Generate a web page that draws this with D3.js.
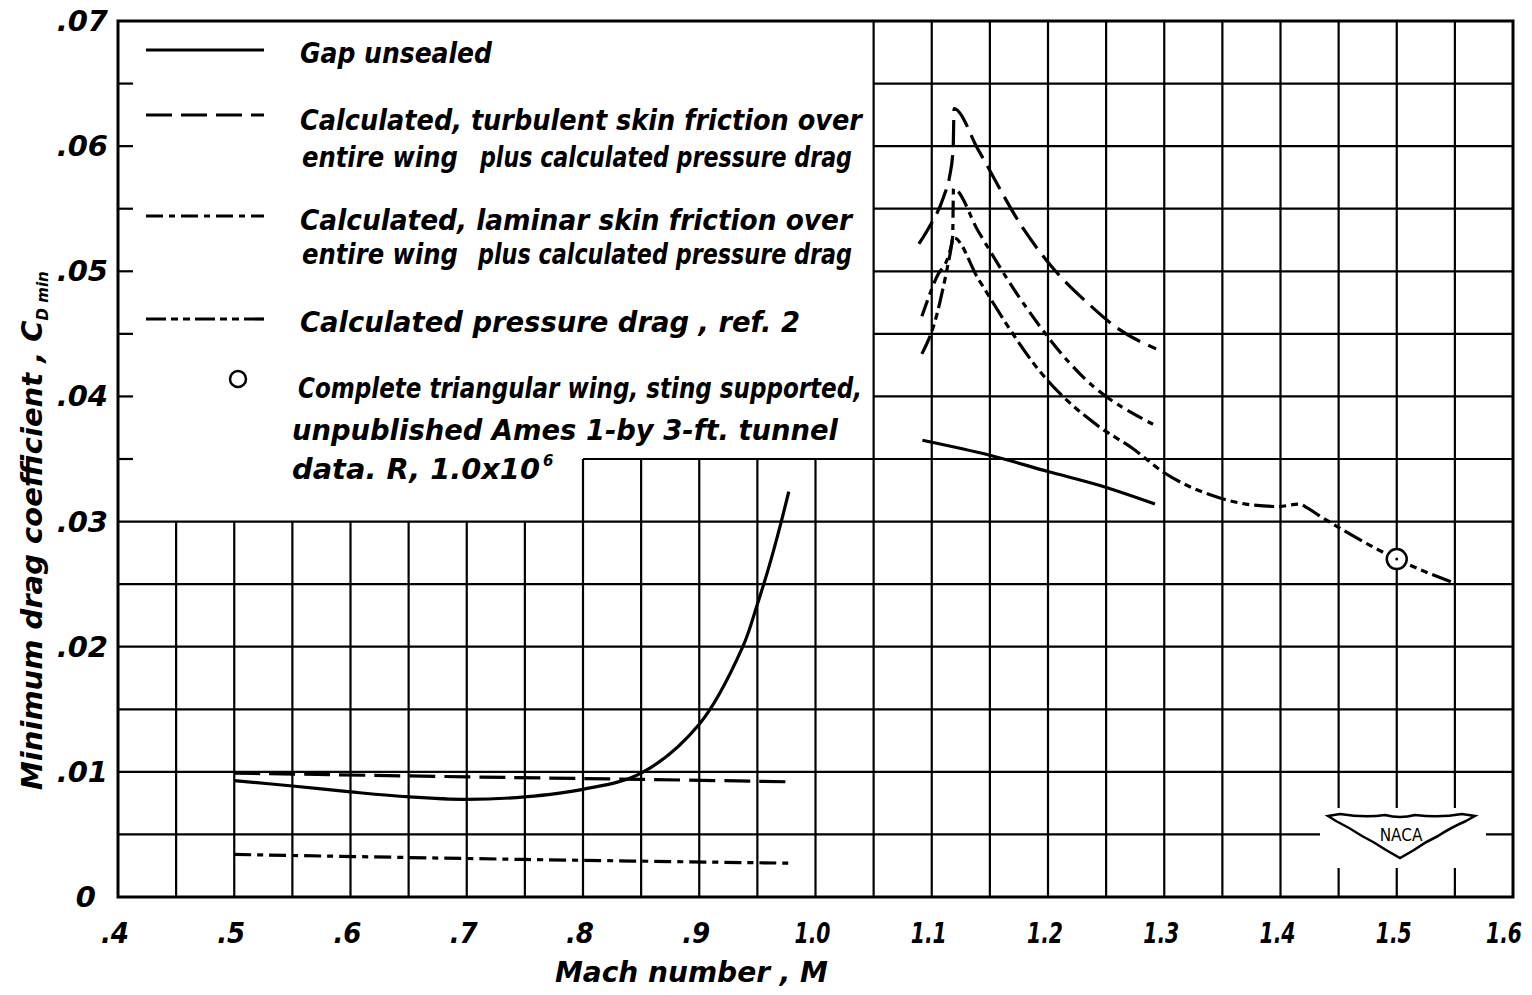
<!DOCTYPE html>
<html>
<head>
<meta charset="utf-8">
<script src="https://cdn.jsdelivr.net/npm/d3@7"></script>
<style>
  html, body { margin: 0; padding: 0; background: #fff; }
  svg { display: block; }
  text { font-family: "DejaVu Sans", "Liberation Sans", sans-serif; font-style: oblique; font-weight: bold; fill: #000; }
</style>
</head>
<body>
<svg id="chart" width="1532" height="995"></svg>
<script>
// ---------------- data ----------------
const xTickValues = [0.4, 0.5, 0.6, 0.7, 0.8, 0.9, 1.0, 1.1, 1.2, 1.3, 1.4, 1.5, 1.6];
const xTickLabels = [".4", ".5", ".6", ".7", ".8", ".9", "1.0", "1.1", "1.2", "1.3", "1.4", "1.5", "1.6"];
const yTickValues = [0, 0.01, 0.02, 0.03, 0.04, 0.05, 0.06, 0.07];
const yTickLabels = ["0", ".01", ".02", ".03", ".04", ".05", ".06", ".07"];

// Gap unsealed (solid)
const gapSubMach = [0.50, 0.55, 0.60, 0.65, 0.70, 0.75, 0.80, 0.85, 0.90, 0.937, 0.95, 0.96, 0.97, 0.977];
const gapSubCd   = [0.0093, 0.00887, 0.0084, 0.0080, 0.0078, 0.0080, 0.0086, 0.0099, 0.0138, 0.0199, 0.0234, 0.0264, 0.0298, 0.0324];
const gapSupMach = [1.092, 1.15, 1.20, 1.244, 1.292];
const gapSupCd   = [0.0365, 0.0353, 0.0340, 0.0329, 0.0314];

// Calculated, turbulent skin friction + pressure drag (long dash)
const turbSubMach = [0.50, 0.70, 0.85, 0.98];
const turbSubCd   = [0.0099, 0.0096, 0.0094, 0.0092];
const turbSupMach = [1.089, 1.097, 1.110, 1.1156, 1.118, 1.1185, 1.1192, 1.14, 1.1795, 1.202, 1.236, 1.259, 1.293];
const turbSupCd   = [0.0522, 0.0534, 0.0559, 0.0577, 0.0593, 0.0600, 0.0630, 0.0597, 0.0533, 0.0505, 0.0473, 0.0455, 0.0438];

// Calculated, laminar skin friction + pressure drag
const lamSubMach = [0.50, 0.75, 0.98];
const lamSubCd   = [0.0034, 0.0030, 0.0027];
const lamSupMach = [1.0915, 1.104, 1.1156, 1.118, 1.1187, 1.14, 1.174, 1.2307, 1.292];
const lamSupCd   = [0.0464, 0.0495, 0.0516, 0.0528, 0.0566, 0.0532, 0.0481, 0.0415, 0.0377];

// Calculated pressure drag, ref. 2
const presMach = [1.0915, 1.1028, 1.111, 1.1156, 1.1187, 1.14, 1.1966, 1.2437, 1.272, 1.30, 1.344, 1.37, 1.398, 1.416, 1.423, 1.433, 1.447, 1.483, 1.50, 1.549];
const presCd   = [0.0434, 0.0460, 0.0492, 0.0513, 0.0527, 0.0494, 0.0416, 0.0376, 0.0359, 0.0339, 0.0320, 0.0314, 0.0312, 0.0314, 0.0311, 0.0305, 0.0297, 0.0278, 0.0270, 0.0251];

// Experimental point: complete triangular wing
const expMach = [1.50];
const expCd   = [0.0270];

// legend text
const legendText = [
  ["Gap unsealed", 300, 63, 192],
  ["Calculated, turbulent skin friction over", 300, 130, 562],
  ["entire wing", 302, 167, 156],
  ["plus calculated pressure drag", 480, 167, 372],
  ["Calculated, laminar skin friction over", 300, 230, 552],
  ["entire wing", 302, 264, 156],
  ["plus calculated pressure drag", 478, 264, 374],
  ["Calculated  pressure  drag , ref.  2", 300, 332, 500],
  ["Complete triangular wing, sting supported,", 298, 398, 564],
  ["unpublished  Ames  1-by 3-ft. tunnel", 292, 440, 546],
  ["data.  R, 1.0x10", 292, 479, 248]
];

// ---------------- scales ----------------
const svg = d3.select("#chart");
const x = d3.scaleLinear().domain([0.4, 1.6]).range([118, 1513]);
const y = d3.scaleLinear().domain([0, 0.07]).range([897, 21]);

const dashTurb = "26,9";
const dashLam = "17,6,6,6";
const dashPres = "20,5,7,5,7,5";

// ---------------- grid ----------------
const gridG = svg.append("g").attr("stroke", "#000").attr("stroke-width", 2.2).attr("fill", "none");
const vGrid = d3.range(9, 32).map(i => +(i * 0.05).toFixed(2)); // 0.45 ... 1.55
vGrid.forEach(v => {
  const top = v >= 1.05 - 1e-9 ? 0.07 : (v >= 0.8 - 1e-9 ? 0.035 : 0.03);
  gridG.append("line").attr("x1", x(v)).attr("x2", x(v)).attr("y1", y(0)).attr("y2", y(top));
});
const hGrid = d3.range(1, 14).map(i => +(i * 0.005).toFixed(3)); // 0.005 ... 0.065
hGrid.forEach(h => {
  const left = h <= 0.03 + 1e-9 ? 0.4 : (h <= 0.035 + 1e-9 ? 0.8 : 1.05);
  gridG.append("line").attr("x1", x(left)).attr("x2", x(1.6)).attr("y1", y(h)).attr("y2", y(h));
});

// y-axis ticks inside legend region
const tickG = svg.append("g").attr("stroke", "#000").attr("stroke-width", 2.2);
hGrid.filter(h => h > 0.03 + 1e-9).forEach(h => {
  tickG.append("line").attr("x1", x(0.4)).attr("x2", x(0.4) + 15).attr("y1", y(h)).attr("y2", y(h));
});

// frame
svg.append("rect")
  .attr("x", x(0.4)).attr("y", y(0.07))
  .attr("width", x(1.6) - x(0.4)).attr("height", y(0) - y(0.07))
  .attr("fill", "none").attr("stroke", "#000").attr("stroke-width", 3);

// ---------------- NACA logo ----------------
const logoG = svg.append("g");
logoG.append("rect").attr("x", 1320).attr("y", 808).attr("width", 166).attr("height", 60).attr("fill", "#fff");
logoG.append("path")
  .attr("d", "M1328,816 L1340,814 Q1365,818 1385,815 Q1400,819 1415,815 Q1440,818 1462,814 L1475,816 L1466,821 Q1450,828 1438,836 Q1425,842 1414,850 L1400,858 L1386,850 Q1374,842 1362,836 Q1350,828 1336,821 Z")
  .attr("fill", "#fff").attr("stroke", "#000").attr("stroke-width", 2.5);
logoG.append("text").attr("x", 1401).attr("y", 841).attr("text-anchor", "middle")
  .style("font-style", "normal").style("font-weight", "normal").style("font-size", "17px")
  .style("font-family", "'DejaVu Sans Condensed', 'DejaVu Sans', sans-serif").text("NACA");

// ---------------- curves ----------------
const lineSmooth = d3.line().x(d => x(d[0])).y(d => y(d[1])).curve(d3.curveCatmullRom.alpha(0.5));
const lineMono = d3.line().x(d => x(d[0])).y(d => y(d[1])).curve(d3.curveMonotoneX);
const zip = (a, b) => a.map((v, i) => [v, b[i]]);
const curveG = svg.append("g").attr("fill", "none").attr("stroke", "#000").attr("stroke-width", 3.2)
  .attr("stroke-linecap", "butt").attr("stroke-linejoin", "round");

curveG.append("path").attr("d", lineSmooth(zip(gapSubMach, gapSubCd)));
curveG.append("path").attr("d", lineSmooth(zip(gapSupMach, gapSupCd)));
curveG.append("path").attr("d", lineSmooth(zip(turbSubMach, turbSubCd))).attr("stroke-dasharray", dashTurb);
curveG.append("path").attr("d", lineMono(zip(turbSupMach, turbSupCd))).attr("stroke-dasharray", dashTurb);
curveG.append("path").attr("d", lineSmooth(zip(lamSubMach, lamSubCd))).attr("stroke-dasharray", dashLam);
curveG.append("path").attr("d", lineMono(zip(lamSupMach, lamSupCd))).attr("stroke-dasharray", dashLam);
curveG.append("path").attr("d", lineMono(zip(presMach, presCd))).attr("stroke-dasharray", dashPres);

// experimental point
const expG = svg.append("g");
zip(expMach, expCd).forEach(d => {
  expG.append("circle").attr("cx", x(d[0])).attr("cy", y(d[1])).attr("r", 10)
    .attr("fill", "#fff").attr("stroke", "#000").attr("stroke-width", 2.5);
  expG.append("circle").attr("cx", x(d[0])).attr("cy", y(d[1])).attr("r", 1.5).attr("fill", "#000");
});

// ---------------- axes labels ----------------
const axG = svg.append("g");
xTickValues.forEach((v, i) => {
  const last = i === xTickValues.length - 1;
  const t = axG.append("text").attr("x", x(v) - (last ? 9 : 3)).attr("y", 943).attr("text-anchor", "middle")
    .style("font-size", "29px").style("font-family", "'DejaVu Sans Condensed', 'DejaVu Sans', sans-serif")
    .text(xTickLabels[i]);
  if (xTickLabels[i].length === 3) t.attr("textLength", 36).attr("lengthAdjust", "spacingAndGlyphs");
});
yTickValues.forEach((v, i) => {
  axG.append("text").attr("x", v === 0 ? 96 : 108).attr("y", y(v) + 10).attr("text-anchor", "end")
    .style("font-size", "29px").text(yTickLabels[i]);
});

// x title
axG.append("text").attr("x", 555).attr("y", 982).attr("textLength", 273).attr("lengthAdjust", "spacingAndGlyphs")
  .style("font-size", "29px").text("Mach number , M");

// y title
const yt = axG.append("text").attr("transform", "translate(42,790) rotate(-90)")
  .style("font-size", "29px");
yt.append("tspan").text("Minimum drag coefficient , C");
yt.append("tspan").attr("dy", 6).style("font-size", "15px").text("D min");

// ---------------- legend ----------------
const legG = svg.append("g");
const legendSamples = [
  [50, null],
  [115, dashTurb],
  [216, dashLam],
  [319, dashPres]
];
legendSamples.forEach(s => {
  const ln = legG.append("line").attr("x1", 146).attr("x2", 264).attr("y1", s[0]).attr("y2", s[0])
    .attr("stroke", "#000").attr("stroke-width", 3.2);
  if (s[1]) ln.attr("stroke-dasharray", s[1]);
});
legG.append("circle").attr("cx", 238).attr("cy", 379).attr("r", 8)
  .attr("fill", "#fff").attr("stroke", "#000").attr("stroke-width", 2.5);

legendText.forEach(t => {
  legG.append("text").attr("x", t[1]).attr("y", t[2])
    .attr("textLength", t[3]).attr("lengthAdjust", "spacingAndGlyphs")
    .style("font-size", "28px").text(t[0]);
});
legG.append("text").attr("x", 543).attr("y", 466).style("font-size", "15px").text("6");
</script>
</body>
</html>
